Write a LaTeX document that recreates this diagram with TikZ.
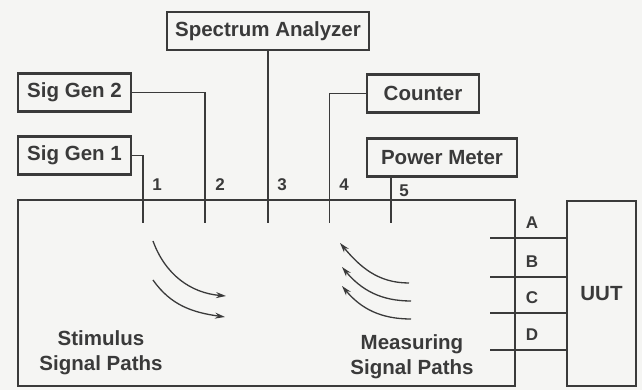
\documentclass[tikz,border=0pt]{standalone}
\usepackage{fontspec}
\setmainfont{Liberation Sans}
\usetikzlibrary{arrows.meta}
\definecolor{ink}{HTML}{3A3A3A}
\definecolor{paper}{HTML}{F5F5F3}

\begin{document}
\begin{tikzpicture}[x=1pt, y=1pt,
    every node/.style={text=ink, font=\bfseries\fontsize{20.5}{25}\selectfont},
    instr/.style={draw=ink, line width=2.4pt, inner sep=0pt, minimum height=38pt},
    wire/.style={draw=ink, line width=1.3pt},
    flow/.style={draw=ink, line width=1.3pt, -{Stealth[length=10pt, width=6pt]}},
    tag/.style={font=\bfseries\fontsize{17}{20}\selectfont}
  ]
  \fill[paper] (0,0) rectangle (642,390);

  \node[instr, minimum width=202pt] (sa) at (268,359) {Spectrum Analyzer};
  \node[instr, minimum width=113pt] (sg2) at (74.5,297.5) {Sig Gen 2};
  \node[instr, minimum width=113pt] (sg1) at (74.5,234.5) {Sig Gen 1};
  \node[instr, minimum width=112pt] (cnt) at (423,296.5) {Counter};
  \node[instr, minimum width=150pt] (pm) at (442,232.5) {Power Meter};
  \node[instr, minimum width=497pt, minimum height=186pt] (box) at (266.5,97) {};
  \node[instr, minimum width=69pt, minimum height=185pt] (uut) at (601.5,96.5) {UUT};

  \coordinate (p1) at (143,167);
  \coordinate (p2) at (205,167);
  \coordinate (p3) at (268,167);
  \coordinate (p4) at (329.5,167);
  \coordinate (p5) at (391,167);
  \draw[wire] (sg1.east) -| (p1);
  \draw[wire] (sg2.east) -| (p2);
  \draw[wire] (sa.south) -- (p3);
  \draw[wire] (cnt.west) -| (p4);
  \draw[wire] (p5 |- pm.south) -- (p5);

  \node[tag] (n1) at (157,205) {1};
  \node[tag] (n2) at (220,205) {2};
  \node[tag] (n3) at (282,205) {3};
  \node[tag] (n4) at (344,205) {4};
  \node[tag] (n5) at (404,199) {5};

  \coordinate (a) at (490,152);
  \coordinate (b) at (490,113);
  \coordinate (c) at (490,77);
  \coordinate (d) at (490,40);
  \foreach \p in {a,b,c,d}
    \draw[wire] (\p) -- (\p -| uut.west);
  \node[tag] (la) at (532,167) {A};
  \node[tag] (lb) at (532,128) {B};
  \node[tag] (lc) at (532,92) {C};
  \node[tag] (ld) at (532,55) {D};

  \coordinate (s1) at (153,149);
  \coordinate (s1e) at (226,94);
  \coordinate (s2) at (153,110);
  \coordinate (s2e) at (225,73);
  \draw[flow] (s1) to[out=-70, in=175] (s1e);
  \draw[flow] (s2) to[out=-55, in=172] (s2e);

  \coordinate (m1) at (409,107);
  \coordinate (m1e) at (340,147);
  \coordinate (m2) at (411,89);
  \coordinate (m2e) at (342,123);
  \coordinate (m3) at (411,71);
  \coordinate (m3e) at (342,104);
  \foreach \s/\e in {m1/m1e, m2/m2e, m3/m3e}
    \draw[flow] (\s) to[out=180, in=-50] (\e);

  \node[align=center] (stim) at (101,37) {Stimulus\\Signal Paths};
  \node[align=center] (meas) at (412,33) {Measuring\\Signal Paths};
\end{tikzpicture}
\end{document}
